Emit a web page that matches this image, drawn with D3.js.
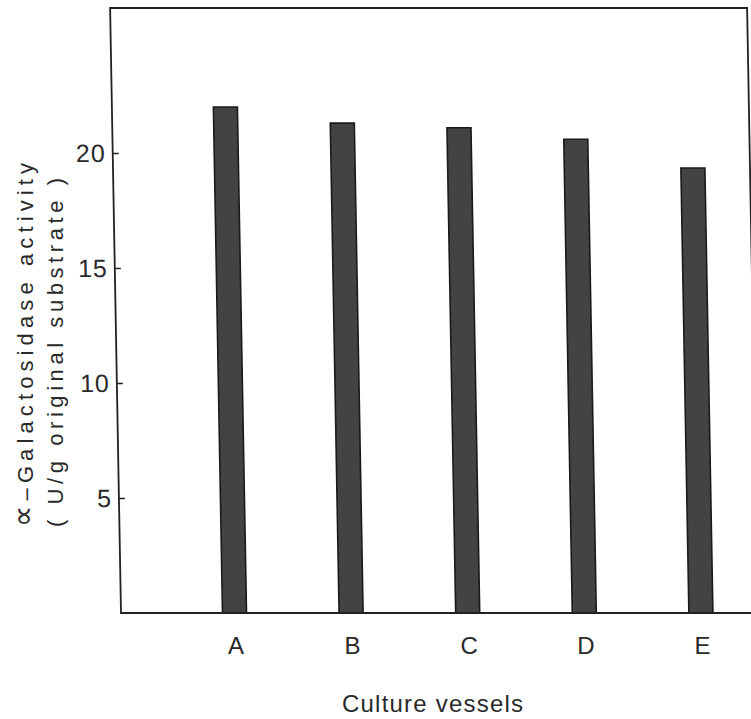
<!DOCTYPE html>
<html>
<head>
<meta charset="utf-8">
<script src="https://cdn.jsdelivr.net/npm/d3@7"></script>
<style>
  html, body { margin: 0; padding: 0; background: #fff; }
  svg { display: block; }
  text { font-family: "Liberation Sans", "DejaVu Sans", sans-serif; fill: #2a2a2a; }
</style>
</head>
<body>
<svg id="chart" width="751" height="719"></svg>
<script>
const categories = ["A", "B", "C", "D", "E"];
const activity = [22.0, 21.3, 21.1, 20.6, 19.35];
const yTicks = [5, 10, 15, 20];
const yTitle1a = "∝";
const yTitle1b = "–Galactosidase  activity";
const yTitle2 = "( U/g original substrate )";
const xTitle = "Culture vessels";

const svg = d3.select("#chart");
const baseY = 613, topY = 8, axisX = 121, rightX = 758;

const y = d3.scaleLinear().domain([0, (baseY - topY) / 23]).range([baseY, topY]);
const x = d3.scaleBand().domain(categories).range([176.2, 759.2])
  .paddingInner(0.794).paddingOuter(0.397);

// slight scan skew
const skewT = 0.018;
const g = svg.append("g")
  .attr("transform", `translate(0,${baseY}) skewX(${Math.atan(skewT) * 180 / Math.PI}) translate(0,${-baseY})`);

// bars
g.selectAll("rect.bar").data(categories).enter().append("rect")
  .attr("class", "bar")
  .attr("x", d => x(d))
  .attr("width", x.bandwidth())
  .attr("y", (d, i) => y(activity[i]))
  .attr("height", (d, i) => y(0) - y(activity[i]))
  .attr("fill", "#434343")
  .attr("stroke", "#1a1a1a")
  .attr("stroke-width", 1.6);

// frame
g.append("path")
  .attr("d", `M${rightX},${baseY}V${topY}H${axisX}V${baseY}H${rightX + 10}`)
  .attr("fill", "none").attr("stroke", "#222").attr("stroke-width", 1.8);

// y axis ticks (inward)
const yAxis = d3.axisRight(y).tickValues(yTicks).tickSize(6).tickPadding(0).tickFormat("");
const ya = g.append("g").attr("transform", `translate(${axisX},0)`).call(yAxis);
ya.select(".domain").remove();
ya.selectAll(".tick line").attr("stroke", "#222").attr("stroke-width", 1.6);
g.selectAll("text.ytick").data(yTicks).enter().append("text")
  .attr("class", "ytick")
  .attr("x", axisX - 7)
  .attr("y", d => y(d))
  .attr("dy", "0.36em")
  .attr("text-anchor", "end")
  .attr("font-size", 25)
  .attr("letter-spacing", 1)
  .text(d => d);

// x category labels
const xAxis = d3.axisBottom(x).tickSize(0).tickPadding(0);
const xa = svg.append("g").attr("transform", `translate(1.5,${baseY})`).call(xAxis);
xa.select(".domain").remove();
xa.selectAll(".tick text")
  .attr("y", 41).attr("dy", 0)
  .attr("font-size", 24)
  .attr("font-family", "Liberation Sans, DejaVu Sans, sans-serif")
  .attr("fill", "#2a2a2a");

// x title
svg.append("text")
  .attr("x", 342).attr("y", 712)
  .attr("font-size", 24)
  .attr("textLength", 181).attr("lengthAdjust", "spacing")
  .text(xTitle);

// y titles
const t1 = svg.append("text")
  .attr("transform", "translate(33,527) rotate(-90)")
  .attr("font-size", 22)
  .attr("textLength", 364).attr("lengthAdjust", "spacing");
t1.append("tspan").attr("font-size", 30).text(yTitle1a);
t1.append("tspan").text(yTitle1b);
svg.append("text")
  .attr("transform", "translate(63,527) rotate(-90)")
  .attr("font-size", 22)
  .attr("textLength", 349).attr("lengthAdjust", "spacing")
  .text(yTitle2);
</script>
</body>
</html>
